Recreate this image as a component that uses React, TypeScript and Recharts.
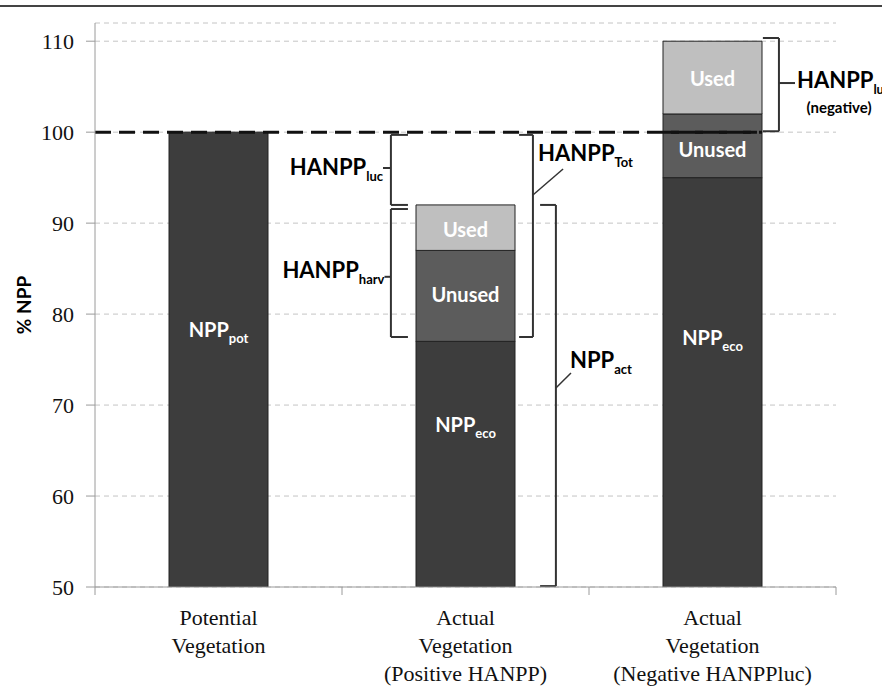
import React from 'react';
import { ComposedChart, Bar, Line, XAxis, YAxis, CartesianGrid, ReferenceLine, ReferenceDot } from 'recharts';

// ---- data ----
const categories = ['Potential\nVegetation', 'Actual\nVegetation\n(Positive HANPP)', 'Actual\nVegetation\n(Negative HANPPluc)'];
const nppEco = [100, 77, 95];
const unusedPart = [0, 10, 7];
const usedPart = [0, 5, 8];
const yTicks = [50, 60, 70, 80, 90, 100, 110];
const potentialLevel = 100;

// pos = category centre on a continuous 0..3 axis (used only for annotations)
const data = categories.map((c, i) => ({ cat: c, pos: i + 0.5, eco: nppEco[i], unused: unusedPart[i], used: usedPart[i] }));
// dashed 100 % line, from the y axis to the right edge of the third bar
const potentialLine = [{ pos: 0, ref: potentialLevel }, { pos: 2.68, ref: potentialLevel }];

// ---- annotations (data coordinates: x on 0..3 category-index axis, y in %NPP) ----
type Pt = [number, number];
const bracketSegs: [Pt, Pt][] = [
  // HANPPluc (positive)
  [[1.198, 99.7], [1.198, 92.0]], [[1.198, 99.7], [1.267, 99.7]], [[1.198, 92.0], [1.267, 92.0]], [[1.166, 96.06], [1.198, 96.06]],
  // HANPPharv
  [[1.198, 91.55], [1.198, 77.48]], [[1.198, 91.55], [1.267, 91.55]], [[1.198, 77.48], [1.267, 77.48]], [[1.172, 84.1], [1.198, 84.1]],
  // HANPPtot
  [[1.773, 99.7], [1.773, 77.48]], [[1.717, 99.7], [1.773, 99.7]], [[1.717, 77.48], [1.773, 77.48]],
  // NPPact
  [[1.866, 92.0], [1.866, 50.1]], [[1.802, 92.0], [1.866, 92.0]], [[1.802, 50.1], [1.866, 50.1]],
  // HANPPluc (negative)
  [[2.769, 110.35], [2.769, 100.1]], [[2.704, 110.35], [2.769, 110.35]], [[2.704, 100.1], [2.769, 100.1]], [[2.769, 105.4], [2.834, 105.4]],
];
const leaderSegs: [Pt, Pt][] = [
  [[1.773, 93.09], [1.895, 95.95]],
  [[1.866, 71.88], [1.927, 73.52]],
];
const annoLabels = [
  { x: 1.166, y: 95.26, main: 'HANPP', sub: 'luc', anchor: 'end' },
  { x: 1.172, y: 83.97, main: 'HANPP', sub: 'harv', anchor: 'end' },
  { x: 1.794, y: 96.83, main: 'HANPP', sub: 'Tot', anchor: 'start' },
  { x: 1.923, y: 74.07, main: 'NPP', sub: 'act', anchor: 'start' },
  { x: 2.842, y: 104.85, main: 'HANPP', sub: 'luc', anchor: 'start' },
];
const negNote = { x: 3.012, y: 102.1, text: '(negative)' };
const barLabels = [
  { cat: categories[0], y: 77.48, main: 'NPP', sub: 'pot' },
  { cat: categories[1], y: 67.04, main: 'NPP', sub: 'eco' },
  { cat: categories[1], y: 81.33, main: 'Unused', sub: '' },
  { cat: categories[1], y: 88.47, main: 'Used', sub: '' },
  { cat: categories[2], y: 76.6, main: 'NPP', sub: 'eco' },
  { cat: categories[2], y: 97.27, main: 'Unused', sub: '' },
  { cat: categories[2], y: 105.07, main: 'Used', sub: '' },
];

const SANS = 'Lato, "Open Sans", sans-serif';
const SERIF = '"Liberation Serif", "DejaVu Serif", serif';
const AXIS_GRAY = '#9a9a9a';
const DASH = '16 8';

const RichText = (props: any) => {
  const { viewBox, main, sub, txtAnchor = 'start', size = 22, subSize = 13, txtFill = '#000' } = props;
  const x = viewBox.x + (viewBox.width || 0) / 2;
  const y = viewBox.y + (viewBox.height || 0) / 2;
  return (
    <text x={x} y={y} textAnchor={txtAnchor} fontFamily={SANS} fontWeight={700} fontSize={size} fill={txtFill}>
      {main}
      {sub ? <tspan fontSize={subSize} dy={6}>{sub}</tspan> : null}
    </text>
  );
};

// "Unused" segment; where it spans the 100 % level, the dashed line is drawn across it
const UnusedShape = (props: any) => {
  const { x, y, width, height, fill, stroke, payload } = props;
  if (!height || !width) return null;
  const low = payload.eco;
  const high = payload.eco + payload.unused;
  const crosses = low < potentialLevel && high > potentialLevel;
  const yLine = y + (height * (high - potentialLevel)) / (high - low);
  return (
    <g>
      <rect x={x} y={y} width={width} height={height} fill={fill} stroke={stroke} strokeWidth={1} />
      {crosses ? (
        <line x1={x} x2={x + width} y1={yLine} y2={yLine} stroke="#111" strokeWidth={3} strokeDasharray={DASH} />
      ) : null}
    </g>
  );
};

const XTick = (props: any) => {
  const { x, y, payload, width } = props;
  const lines = String(payload.value).split('\n');
  const half = payload.offset ?? (width ? width / categories.length / 2 : 0);
  return (
    <g>
      {payload.index === 0 || props.index === 0 ? (
        <line x1={x - half} x2={x - half} y1={y} y2={y + 8} stroke={AXIS_GRAY} strokeWidth={1} />
      ) : null}
      <line x1={x + half} x2={x + half} y1={y} y2={y + 8} stroke={AXIS_GRAY} strokeWidth={1} />
      <text x={x} y={y} textAnchor="middle" fontFamily={SERIF} fontSize={22} fill="#111">
        {lines.map((l, i) => (
          <tspan key={i} x={x} dy={i === 0 ? 38 : 28}>{l}</tspan>
        ))}
      </text>
    </g>
  );
};

const YLabel = (props: any) => {
  const { viewBox } = props;
  const cx = viewBox.x + 31;
  const cy = viewBox.y + viewBox.height / 2;
  return (
    <text x={cx} y={cy} transform={`rotate(-90 ${cx} ${cy})`} textAnchor="middle" fontFamily={SANS} fontWeight={700} fontSize={19} fill="#000">
      % NPP
    </text>
  );
};

export default function App() {
  return (
    <div style={{ position: 'absolute', left: 0, top: 0, width: 882, height: 687, background: '#fff', overflow: 'hidden' }}>
      <div style={{ position: 'absolute', left: 0, top: 5, width: 882, height: 2, background: '#444' }} />
      <ComposedChart
        width={882}
        height={687}
        data={data}
        margin={{ top: 23, right: 46, left: 0, bottom: 0 }}
        barCategoryGap="60%"
        barSize={99}
      >
        <CartesianGrid xAxisId="cat" vertical={false} stroke="#c4c4c4" strokeDasharray="5 4" />
        <XAxis xAxisId="b" dataKey="pos" type="number" scale="linear" domain={[0, 3]} allowDataOverflow hide height={0} />
        <XAxis
          xAxisId="cat"
          dataKey="cat"
          height={100}
          axisLine={{ stroke: AXIS_GRAY }}
          tickLine={false}
          tickSize={0}
          tickMargin={0}
          interval={0}
          tick={<XTick />}
        />
        <YAxis
          width={95}
          domain={[50, 112]}
          ticks={yTicks}
          allowDataOverflow
          axisLine={{ stroke: AXIS_GRAY }}
          tickLine={{ stroke: AXIS_GRAY }}
          tickSize={9}
          tickMargin={12}
          tick={{ fontFamily: SERIF, fontSize: 22, fill: '#111' }}
          label={<YLabel />}
        />
        <Line
          xAxisId="b"
          data={potentialLine}
          dataKey="ref"
          stroke="#111"
          strokeWidth={3}
          strokeDasharray={DASH}
          dot={false}
          activeDot={false}
          isAnimationActive={false}
        />
        <Bar xAxisId="cat" dataKey="eco" stackId="s" fill="#3d3d3d" stroke="#222" strokeWidth={1} isAnimationActive={false} />
        <Bar xAxisId="cat" dataKey="unused" stackId="s" fill="#5c5c5c" stroke="#222" strokeWidth={1} shape={<UnusedShape />} isAnimationActive={false} />
        <Bar xAxisId="cat" dataKey="used" stackId="s" fill="#bfbfbf" stroke="#222" strokeWidth={1} isAnimationActive={false} />

        {bracketSegs.map((s, i) => (
          <ReferenceLine
            key={`br${i}`}
            xAxisId="b"
            segment={[{ x: s[0][0], y: s[0][1] }, { x: s[1][0], y: s[1][1] }]}
            stroke="#333"
            strokeWidth={2}
          />
        ))}
        {leaderSegs.map((s, i) => (
          <ReferenceLine
            key={`ld${i}`}
            xAxisId="b"
            segment={[{ x: s[0][0], y: s[0][1] }, { x: s[1][0], y: s[1][1] }]}
            stroke="#333"
            strokeWidth={1.5}
          />
        ))}
        {annoLabels.map((a, i) => (
          <ReferenceDot
            key={`al${i}`}
            xAxisId="b"
            x={a.x}
            y={a.y}
            r={0}
            fill="none"
            stroke="none"
            ifOverflow="visible"
            label={<RichText main={a.main} sub={a.sub} txtAnchor={a.anchor} size={22} subSize={13} txtFill="#000" />}
          />
        ))}
        <ReferenceDot
          xAxisId="b"
          x={negNote.x}
          y={negNote.y}
          r={0}
          fill="none"
          stroke="none"
          ifOverflow="visible"
          label={<RichText main={negNote.text} sub="" txtAnchor="middle" size={15} txtFill="#000" />}
        />
        {barLabels.map((b, i) => (
          <ReferenceDot
            key={`bl${i}`}
            xAxisId="cat"
            x={b.cat}
            y={b.y}
            r={0}
            fill="none"
            stroke="none"
            ifOverflow="visible"
            label={<RichText main={b.main} sub={b.sub} txtAnchor="middle" size={20} subSize={13} txtFill="#fff" />}
          />
        ))}
      </ComposedChart>
    </div>
  );
}
